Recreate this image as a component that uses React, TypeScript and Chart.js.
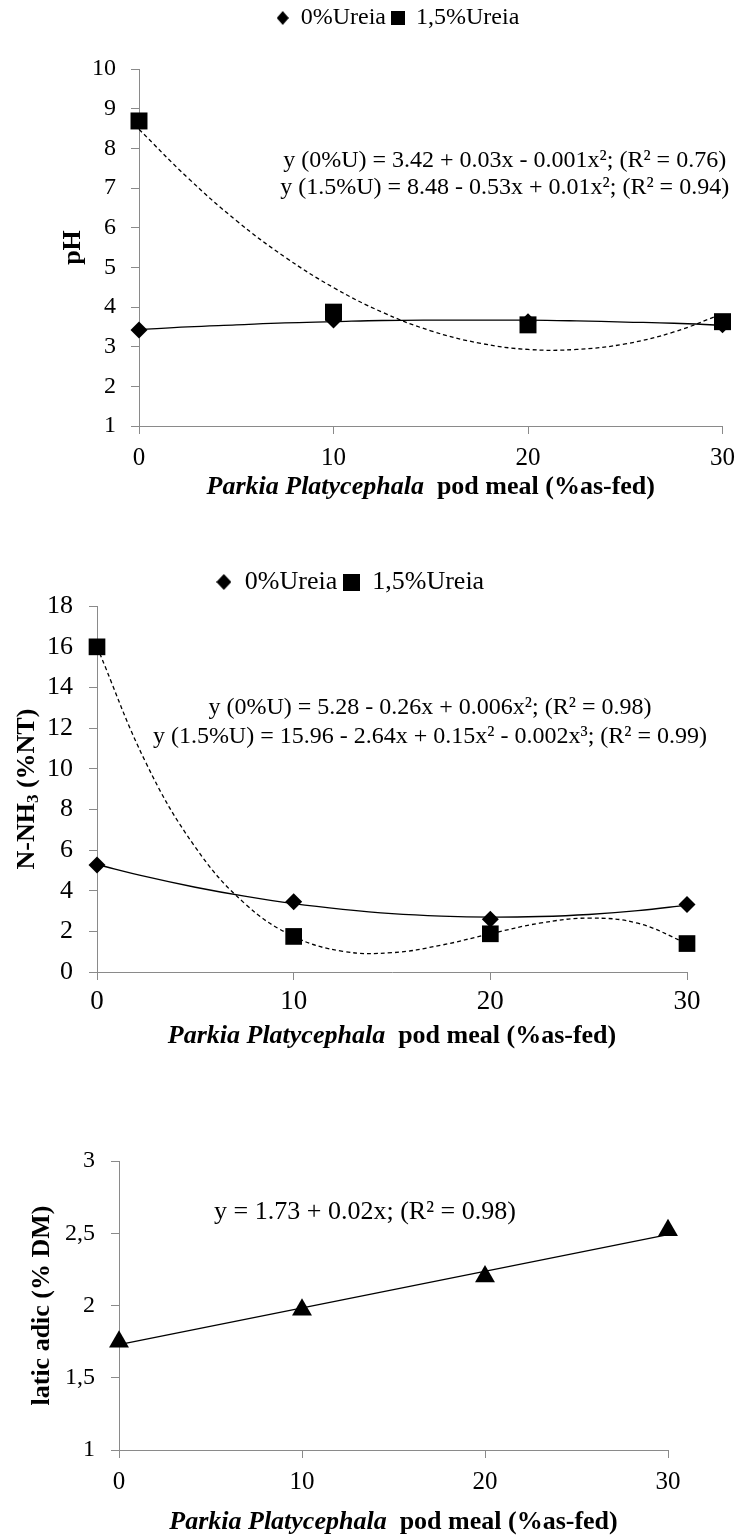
import { useEffect, useRef } from 'react';
import { Chart, registerables } from 'chart.js';

Chart.register(...registerables);

const FONT = "'Liberation Serif', 'Times New Roman', Times, serif";
const AXIS_GREY = '#8a8a8a';

// ---------------- data ----------------
const podMealLevels = [0, 10, 20, 30];
const xTickLabels = ['0', '10', '20', '30'];
const legendLabels = ['0%Ureia', '1,5%Ureia'];
const trendLevels = [0, 2.5, 5, 7.5, 10, 12.5, 15, 17.5, 20, 22.5, 25, 27.5, 30];

// pH
const phUreia0 = [3.42, 3.67, 3.63, 3.55];
const phUreia15 = [8.69, 3.87, 3.55, 3.63];
const phTrend0 = [3.43, 3.5, 3.55, 3.6, 3.63, 3.66, 3.67, 3.67, 3.67, 3.65, 3.62, 3.59, 3.54];
const phTrend15 = [8.48, 7.26, 6.18, 5.26, 4.49, 3.87, 3.4, 3.09, 2.93, 2.93, 3.07, 3.37, 3.83];
const phTickLabels = ['1', '2', '3', '4', '5', '6', '7', '8', '9', '10'];
const phEquations = [
  'y (0%U) = 3.42 + 0.03x - 0.001x²; (R² = 0.76)',
  'y (1.5%U) = 8.48 - 0.53x + 0.01x²; (R² = 0.94)',
];

// N-NH3
const nh3Ureia0 = [5.26, 3.46, 2.6, 3.32];
const nh3Ureia15 = [16.0, 1.75, 1.88, 1.4];
const nh3Trend0 = [5.29, 4.69, 4.17, 3.73, 3.36, 3.08, 2.87, 2.75, 2.7, 2.73, 2.83, 3.02, 3.29];
const nh3Trend15 = [16.0, 10.27, 6.14, 3.38, 1.75, 1.02, 0.95, 1.32, 1.88, 2.4, 2.65, 2.4, 1.4];
const nh3TickLabels = ['0', '2', '4', '6', '8', '10', '12', '14', '16', '18'];
const nh3Equations = [
  'y (0%U) = 5.28 - 0.26x + 0.006x²; (R² = 0.98)',
  'y (1.5%U) = 15.96 - 2.64x + 0.15x² - 0.002x³; (R² = 0.99)',
];

// lactic acid
const lacticAcid = [1.75, 1.97, 2.2, 2.52];
const lacticTrendLevels = [0, 30];
const lacticTrend = [1.73, 2.49];
const lacticTickLabels = ['1', '1,5', '2', '2,5', '3'];
const lacticEquations = ['y = 1.73 + 0.02x; (R² = 0.98)'];

const xTitleItalic = 'Parkia Platycephala';
const xTitleRest = '  pod meal (%as-fed)';

// ---------------- helpers ----------------
const pts = (xs: number[], ys: number[]) => xs.map((x, i) => ({ x, y: ys[i] }));

function makeMarker(shape: 'diamond' | 'square', w: number, h: number) {
  const c = document.createElement('canvas');
  c.width = w;
  c.height = h;
  const ctx = c.getContext('2d')!;
  ctx.fillStyle = '#000';
  ctx.beginPath();
  if (shape === 'diamond') {
    ctx.moveTo(w / 2, 0);
    ctx.lineTo(w, h / 2);
    ctx.lineTo(w / 2, h);
    ctx.lineTo(0, h / 2);
    ctx.closePath();
  } else {
    ctx.rect(0, 0, w, h);
  }
  ctx.fill();
  return c;
}

type TitlePart = { text: string; sub?: boolean };
type TextCfg = {
  equations: { text: string; x: number; y: number }[];
  eqFont: number;
  titleFont: number;
  xTitleOffset: number;
  yTitleOffset: number;
  yTitle: TitlePart[];
};

function makeTextPlugin(cfg: TextCfg) {
  return {
    id: 'figureTexts',
    afterDraw(chart: any) {
      const { ctx, chartArea, scales } = chart;
      ctx.save();
      ctx.fillStyle = '#000';
      ctx.textBaseline = 'middle';
      ctx.textAlign = 'center';
      ctx.font = `${cfg.eqFont}px ${FONT}`;
      for (const eq of cfg.equations) {
        ctx.fillText(eq.text, scales.x.getPixelForValue(eq.x), scales.y.getPixelForValue(eq.y));
      }
      // x title (mixed italic / bold)
      const size = cfg.titleFont;
      const italic = `italic bold ${size}px ${FONT}`;
      const bold = `bold ${size}px ${FONT}`;
      ctx.font = italic;
      const w1 = ctx.measureText(xTitleItalic).width;
      ctx.font = bold;
      const w2 = ctx.measureText(xTitleRest).width;
      const cx = (chartArea.left + chartArea.right) / 2;
      const ty = chartArea.bottom + cfg.xTitleOffset;
      const x0 = cx - (w1 + w2) / 2;
      ctx.textAlign = 'left';
      ctx.font = italic;
      ctx.fillText(xTitleItalic, x0, ty);
      ctx.font = bold;
      ctx.fillText(xTitleRest, x0 + w1, ty);
      // y title (rotated, optional subscript)
      ctx.translate(chartArea.left + cfg.yTitleOffset, (chartArea.top + chartArea.bottom) / 2);
      ctx.rotate(-Math.PI / 2);
      const mainF = `bold ${size}px ${FONT}`;
      const subF = `bold ${Math.round(size * 0.65)}px ${FONT}`;
      let total = 0;
      const widths = cfg.yTitle.map((p) => {
        ctx.font = p.sub ? subF : mainF;
        const w = ctx.measureText(p.text).width;
        total += w;
        return w;
      });
      let px = -total / 2;
      cfg.yTitle.forEach((p, i) => {
        ctx.font = p.sub ? subF : mainF;
        ctx.fillText(p.text, px, p.sub ? size * 0.25 : 0);
        px += widths[i];
      });
      ctx.restore();
    },
  };
}

type Spec = {
  left: number;
  top: number;
  width: number;
  height: number;
  padding: { left: number; right: number; top: number; bottom: number };
  legend?: { font: number; box: number; diamond: [number, number]; square: [number, number] };
  spacer: number;
  yMin: number;
  yMax: number;
  yStep: number;
  yLabels: string[];
  yFont: number;
  yPad: number;
  yWidth: number;
  xFont: number;
  xPad: number;
  xHeight: number;
  datasets: any[];
  texts: TextCfg;
};

function buildConfig(s: Spec): any {
  const legend = s.legend
    ? {
        display: true,
        position: 'top',
        labels: {
          usePointStyle: true,
          boxWidth: s.legend.box,
          boxHeight: s.legend.box,
          padding: 6,
          color: '#000',
          font: { family: FONT, size: s.legend.font },
          generateLabels: () => [
            {
              text: legendLabels[0],
              pointStyle: makeMarker('diamond', s.legend!.diamond[0], s.legend!.diamond[1]),
              fillStyle: '#000',
              strokeStyle: '#000',
              lineWidth: 0,
              hidden: false,
              datasetIndex: 1,
            },
            {
              text: legendLabels[1],
              pointStyle: makeMarker('square', s.legend!.square[0], s.legend!.square[1]),
              fillStyle: '#000',
              strokeStyle: '#000',
              lineWidth: 0,
              hidden: false,
              datasetIndex: 0,
            },
          ],
        },
      }
    : { display: false };

  return {
    type: 'scatter',
    data: { datasets: s.datasets },
    options: {
      responsive: false,
      animation: false,
      events: [],
      layout: { padding: s.padding },
      plugins: {
        legend,
        title:
          s.spacer > 0
            ? {
                display: true,
                text: ' ',
                weight: 500,
                position: 'top',
                font: { size: 1, family: FONT },
                padding: { top: Math.max(0, s.spacer - 1.2), bottom: 0 },
              }
            : { display: false },
        tooltip: { enabled: false },
      },
      scales: {
        x: {
          type: 'linear',
          min: 0,
          max: 30,
          ticks: {
            stepSize: 10,
            color: '#000',
            padding: s.xPad,
            font: { family: FONT, size: s.xFont },
            maxRotation: 0,
            callback: (_v: any, i: number) => xTickLabels[i],
          },
          grid: { display: true, drawOnChartArea: false, drawTicks: true, tickLength: 8, color: AXIS_GREY },
          border: { display: true, color: AXIS_GREY, width: 1 },
          afterFit: (axis: any) => {
            axis.height = s.xHeight;
          },
        },
        y: {
          type: 'linear',
          min: s.yMin,
          max: s.yMax,
          ticks: {
            stepSize: s.yStep,
            color: '#000',
            padding: s.yPad,
            font: { family: FONT, size: s.yFont },
            callback: (_v: any, i: number) => s.yLabels[i],
          },
          grid: { display: true, drawOnChartArea: false, drawTicks: true, tickLength: 8, color: AXIS_GREY },
          border: { display: true, color: AXIS_GREY, width: 1 },
          afterFit: (axis: any) => {
            axis.width = s.yWidth;
          },
        },
      },
    },
    plugins: [makeTextPlugin(s.texts)],
  };
}

const markerDs = (label: string, data: any[], style: string, radius: number, order: number) => ({
  label,
  data,
  pointStyle: style,
  pointRadius: radius,
  pointBackgroundColor: '#000',
  pointBorderColor: '#000',
  pointBorderWidth: 0,
  showLine: false,
  order,
  clip: false,
});

const trendDs = (label: string, data: any[], dashed: boolean, order: number) => ({
  label,
  data,
  showLine: true,
  pointRadius: 0,
  borderColor: '#000',
  borderWidth: 1.3,
  borderDash: dashed ? [4, 3] : [],
  tension: 0.4,
  order,
  clip: false,
});

const specs: Spec[] = [
  {
    left: 0,
    top: 0,
    width: 744,
    height: 506,
    padding: { left: 69, right: 17, top: 0, bottom: 0 },
    legend: { font: 24, box: 12, diamond: [12, 14], square: [14, 14] },
    spacer: 29,
    yMin: 1,
    yMax: 10,
    yStep: 1,
    yLabels: phTickLabels,
    yFont: 24,
    yPad: 15,
    yWidth: 70,
    xFont: 25,
    xPad: 9,
    xHeight: 80,
    datasets: [
      markerDs(legendLabels[1], pts(podMealLevels, phUreia15), 'rect', 12, 0),
      markerDs(legendLabels[0], pts(podMealLevels, phUreia0), 'rectRot', 8.5, 1),
      trendDs('trend 0%', pts(trendLevels, phTrend0), false, 2),
      trendDs('trend 1.5%', pts(trendLevels, phTrend15), true, 3),
    ],
    texts: {
      equations: [
        { text: phEquations[0], x: 18.8, y: 7.7 },
        { text: phEquations[1], x: 18.8, y: 7.02 },
      ],
      eqFont: 24,
      titleFont: 26,
      xTitleOffset: 61,
      yTitleOffset: -66,
      yTitle: [{ text: 'pH' }],
    },
  },
  {
    left: 0,
    top: 563,
    width: 744,
    height: 489,
    padding: { left: 13, right: 57, top: 0, bottom: 0 },
    legend: { font: 26, box: 16, diamond: [15, 16], square: [17, 17] },
    spacer: 1.2,
    yMin: 0,
    yMax: 18,
    yStep: 2,
    yLabels: nh3TickLabels,
    yFont: 26,
    yPad: 16,
    yWidth: 84,
    xFont: 27,
    xPad: 6,
    xHeight: 80,
    datasets: [
      markerDs(legendLabels[1], pts(podMealLevels, nh3Ureia15), 'rect', 11.8, 0),
      markerDs(legendLabels[0], pts(podMealLevels, nh3Ureia0), 'rectRot', 8.5, 1),
      trendDs('trend 0%', pts(trendLevels, nh3Trend0), false, 2),
      trendDs('trend 1.5%', pts(trendLevels, nh3Trend15), true, 3),
    ],
    texts: {
      equations: [
        { text: nh3Equations[0], x: 16.93, y: 12.99 },
        { text: nh3Equations[1], x: 16.93, y: 11.56 },
      ],
      eqFont: 24,
      titleFont: 26,
      xTitleOffset: 64,
      yTitleOffset: -70,
      yTitle: [{ text: 'N-NH' }, { text: '3', sub: true }, { text: ' (%NT)' }],
    },
  },
  {
    left: 0,
    top: 1100,
    width: 744,
    height: 435,
    padding: { left: 0, right: 76, top: 61, bottom: 0 },
    spacer: 0,
    yMin: 1,
    yMax: 3,
    yStep: 0.5,
    yLabels: lacticTickLabels,
    yFont: 24,
    yPad: 16,
    yWidth: 119,
    xFont: 25,
    xPad: 9,
    xHeight: 85,
    datasets: [
      markerDs('latic adic', pts(podMealLevels, lacticAcid), 'triangle', 11.5, 0),
      trendDs('trend', pts(lacticTrendLevels, lacticTrend), false, 1),
    ],
    texts: {
      equations: [{ text: lacticEquations[0], x: 13.44, y: 2.647 }],
      eqFont: 26,
      titleFont: 26,
      xTitleOffset: 72,
      yTitleOffset: -77,
      yTitle: [{ text: 'latic adic (% DM)' }],
    },
  },
];

function FigureChart({ spec }: { spec: Spec }) {
  const ref = useRef<HTMLCanvasElement | null>(null);
  useEffect(() => {
    if (!ref.current) return;
    const chart = new Chart(ref.current, buildConfig(spec));
    return () => chart.destroy();
  }, [spec]);
  return (
    <canvas
      ref={ref}
      width={spec.width}
      height={spec.height}
      style={{
        position: 'absolute',
        left: spec.left,
        top: spec.top,
        width: spec.width,
        height: spec.height,
      }}
    />
  );
}

export default function App() {
  return (
    <div
      style={{
        position: 'absolute',
        left: 0,
        top: 0,
        width: 744,
        height: 1535,
        overflow: 'hidden',
        background: '#fff',
      }}
    >
      {specs.map((s, i) => (
        <FigureChart key={i} spec={s} />
      ))}
    </div>
  );
}
